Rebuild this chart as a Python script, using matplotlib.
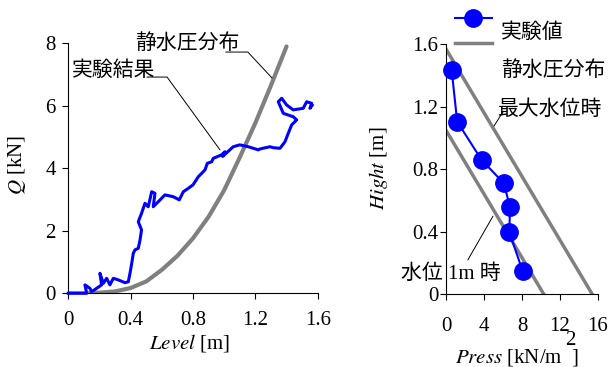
import matplotlib
matplotlib.use("Agg")
import matplotlib.pyplot as plt
from matplotlib.lines import Line2D

plt.rcParams['font.family'] = ['Liberation Serif', 'Noto Sans CJK JP']
plt.rcParams['mathtext.fontset'] = 'stix'
plt.rcParams['font.size'] = 15

# left panel: experiment (level vs load) and hydrostatic curve
level_exp = [0, 0.118, 0.107, 0.139, 0.15, 0.182, 0.214, 0.203, 0.225, 0.246, 0.267,
             0.289, 0.32, 0.364, 0.385, 0.396, 0.407, 0.417, 0.428, 0.449, 0.46, 0.47,
             0.449, 0.47, 0.492, 0.513, 0.535, 0.556, 0.545, 0.577, 0.62, 0.674, 0.712,
             0.738, 0.77, 0.80, 0.834, 0.856, 0.877, 0.892, 0.92, 0.93, 0.984, 1.005,
             0.99, 1.058, 1.1, 1.155, 1.219, 1.23, 1.294, 1.315, 1.358, 1.39, 1.411,
             1.433, 1.465, 1.443, 1.379, 1.347, 1.369, 1.4, 1.443, 1.507, 1.529,
             1.561, 1.55, 1.565]
q_exp = [0, 0, 0.27, 0.16, 0.05, 0.16, 0.27, 0.64, 0.32, 0.48, 0.27,
         0.48, 0.43, 0.34, 0.37, 0.64, 0.96, 1.28, 1.39, 1.44, 1.7, 2.03,
         2.29, 2.56, 2.88, 2.77, 3.25, 3.2, 2.77, 2.93, 3.15, 3.09, 2.99,
         3.25, 3.36, 3.47, 3.73, 3.84, 3.95, 4.16, 4.21, 4.32, 4.43, 4.53,
         4.38, 4.69, 4.75, 4.69, 4.59, 4.62, 4.69, 4.66, 4.64, 4.85, 5.12,
         5.39, 5.55, 5.65, 5.76, 6.13, 6.24, 6.03, 5.87, 5.92, 6.13,
         6.08, 5.92, 6.02]

level_hyd = [0, 0.1, 0.2, 0.3, 0.4, 0.5, 0.6, 0.7, 0.8, 0.9, 1.0, 1.1, 1.2, 1.3, 1.4]
q_hyd = [0, 0, 0.02, 0.06, 0.17, 0.38, 0.75, 1.2, 1.76, 2.45, 3.3, 4.35, 5.45, 6.65, 7.9]

# right panel: pressure distribution
press_exp = [0.6, 1.18, 3.75, 6.1, 6.74, 6.67, 8.07]
hight_exp = [1.435, 1.105, 0.86, 0.71, 0.557, 0.397, 0.149]
press_max = [0, 15.4]
hight_max = [1.57, 0]
press_1m = [0, 10.3]
hight_1m = [1.05, 0]

jp = ['Liberation Serif', 'Noto Sans CJK JP']
gray = '#808080'
blue = '#0000ff'
lead = dict(arrowstyle='-', color='black', lw=0.7, shrinkA=0, shrinkB=0)

fig = plt.figure(figsize=(6.09, 3.67), dpi=100)
ax1 = fig.add_axes([0.1121, 0.2008, 0.4096, 0.6812])
ax2 = fig.add_axes([0.7323, 0.1981, 0.2496, 0.6812])

for ax in (ax1, ax2):
    ax.spines['top'].set_visible(False)
    ax.spines['right'].set_visible(False)
    ax.tick_params(direction='out', length=4, width=0.8, labelsize=15)
ax1.tick_params(axis='x', pad=9)
ax1.tick_params(axis='y', pad=5)
ax2.tick_params(axis='x', pad=12)
ax2.tick_params(axis='y', pad=1.5)

ax1.plot(level_hyd, q_hyd, color=gray, lw=3, solid_capstyle='round', zorder=2)
ax1.plot(level_exp, q_exp, color=blue, lw=2.2, zorder=3, clip_on=False)
ax1.set_xlim(0, 1.6)
ax1.set_ylim(0, 8)
ax1.set_xticks([0, 0.4, 0.8, 1.2, 1.6])
ax1.set_xticklabels(['0', '0.4', '0.8', '1.2', '1.6'])
ax1.set_yticks([0, 2, 4, 6, 8])
ax1.set_xlabel(r'$Level$ [m]')
ax1.set_ylabel(r'$Q$ [kN]')
ax1.xaxis.set_label_coords(0.488, -0.155)
ax1.yaxis.set_label_coords(-0.162, 0.513)

ax1.text(0.428, 7.98, '静水圧分布', family=jp, fontsize=15, ha='left', va='center')
ax1.annotate('', xy=(1.307, 6.89), xytext=(1.01, 7.72),
             arrowprops=dict(lead, connectionstyle='angle,angleA=0,angleB=-47,rad=0'))
ax1.text(0.024, 7.12, '実験結果', family=jp, fontsize=15, ha='left', va='center')
ax1.annotate('', xy=(0.973, 4.59), xytext=(0.504, 6.92),
             arrowprops=dict(lead, connectionstyle='angle,angleA=0,angleB=-54,rad=0'))

ax2.plot(press_max, hight_max, color=gray, lw=2.5, zorder=2)
ax2.plot(press_1m, hight_1m, color=gray, lw=2.5, zorder=2)
ax2.plot(press_exp, hight_exp, color=blue, lw=1.5, marker='o', ms=12.5,
         zorder=3, clip_on=False)
ax2.set_xlim(0, 16)
ax2.set_ylim(0, 1.6)
ax2.set_xticks([0, 4, 8, 12, 16])
ax2.set_yticks([0, 0.4, 0.8, 1.2, 1.6])
ax2.set_yticklabels(['0', '0.4', '0.8', '1.2', '1.6'])
ax2.set_ylabel(r'$Hight$ [m]')
ax2.set_xlabel(r'$Press$ [kN/m  ]')
ax2.xaxis.set_label_coords(0.467, -0.212)
ax2.yaxis.set_label_coords(-0.368, 0.505)
ax2.text(0.816, -0.185, '2', transform=ax2.transAxes, ha='center', va='center',
         fontsize=15)

ax2.text(5.5, 1.18, '最大水位時', family=jp, fontsize=15, ha='left', va='center')
ax2.annotate('', xy=(5.05, 1.077), xytext=(6.0, 1.167), arrowprops=lead)
ax2.text(-4.74, 0.13, '水位 1m 時', family=jp, fontsize=15, ha='left', va='center')
ax2.annotate('', xy=(4.95, 0.5), xytext=(2.3, 0.22), arrowprops=lead)

# legend drawn by hand, text sits under each handle as in the original
ax2.add_line(Line2D([0.059, 0.18, 0.30], [1.105] * 3, transform=ax2.transAxes,
                    color=blue, lw=1.5, marker='o', markevery=[1], ms=12.5,
                    clip_on=False))
ax2.text(0.36, 1.045, '実験値', transform=ax2.transAxes, family=jp, fontsize=15,
         ha='left', va='center')
ax2.add_line(Line2D([0.059, 0.30], [1.005] * 2, transform=ax2.transAxes,
                    color=gray, lw=2.5, clip_on=False))
ax2.text(0.36, 0.895, '静水圧分布', transform=ax2.transAxes, family=jp, fontsize=15,
         ha='left', va='center')

fig.savefig('out.png', dpi=100)
